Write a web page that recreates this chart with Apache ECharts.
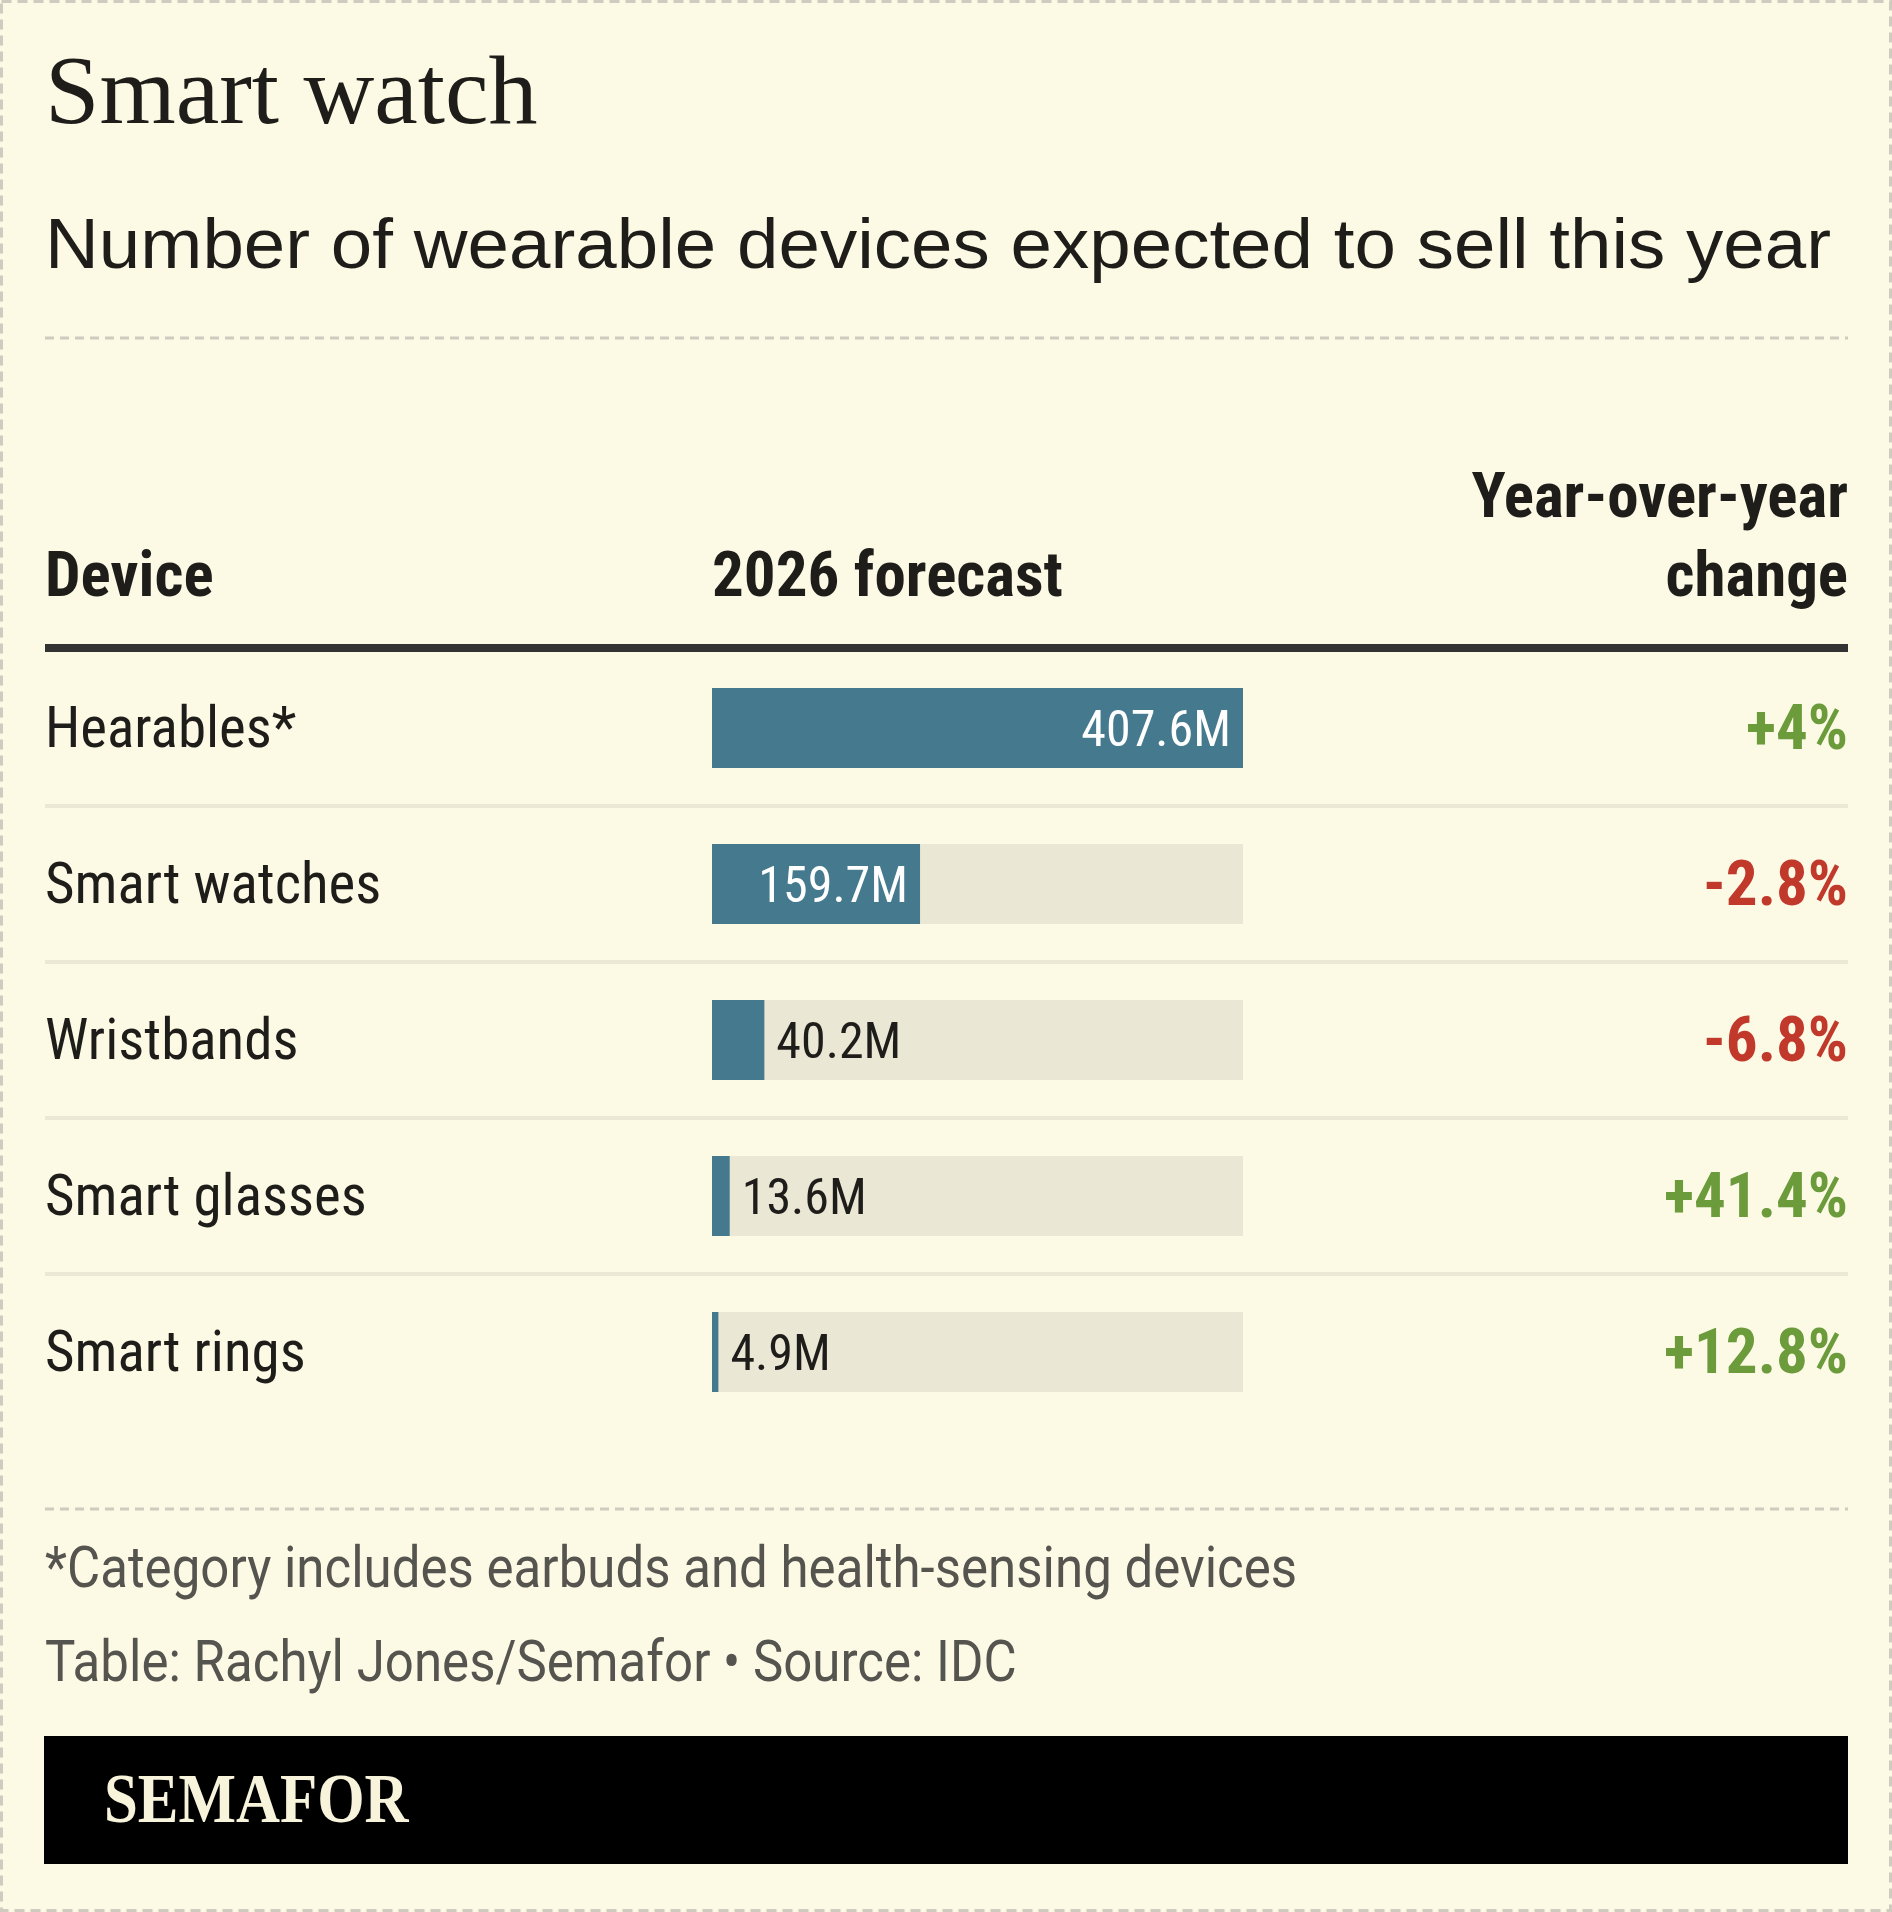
<!DOCTYPE html>
<html>
<head>
<meta charset="utf-8">
<title>Smart watch</title>
<script src="https://cdn.jsdelivr.net/npm/echarts@6/dist/echarts.min.js"></script>
<style>
    html, body { margin: 0; padding: 0; background: #fcf9e5; }
    #chartArea { width: 1892px; height: 1912px; }
</style>
</head>
<body>
<div id="chartArea"></div>
<script>
var devices = ['Hearables*', 'Smart watches', 'Wristbands', 'Smart glasses', 'Smart rings'];
var forecast = [407.6, 159.7, 40.2, 13.6, 4.9];
var yoyChange = ['+4%', '-2.8%', '-6.8%', '+41.4%', '+12.8%'];

var ink = '#1e1d1a';
var narrow = "'Liberation Sans Narrow', 'Roboto Condensed', Roboto, sans-serif";
var dashColor = '#cfcbbf';

var myChart = echarts.init(document.getElementById('chartArea'));

var barData = forecast.map(function(v) {
    var inside = v > 100;
    return {
        value : v,
        label : {
            position : inside ? 'insideRight' : 'right',
            color    : inside ? '#ffffff' : ink
        }
    };
});

function headerText(text, x, y, align) {
    return {
        type : 'text',
        x : x,
        y : y,
        style : {
            text : text,
            fill : ink,
            font : 'bold 63px ' + narrow,
            align : align || 'left',
            verticalAlign : 'middle'
        }
    };
}

var option = {
    backgroundColor : '#fcf9e5',
    animation : false,
    graphic : [
        { type : 'rect', shape : { x : 1.5, y : 1.5, width : 1889, height : 1909 },
          style : { fill : 'none', stroke : dashColor, lineWidth : 3, lineDash : [10, 6] } },
        { type : 'text', x : 45, y : 97,
          style : { text : 'Smart watch', fill : ink, font : '98px "Liberation Serif", serif', verticalAlign : 'middle' } },
        { type : 'text', x : 45, y : 248, scaleX : 1.05,
          style : { text : 'Number of wearable devices expected to sell this year', fill : ink,
                    font : '71px "Liberation Sans", sans-serif', verticalAlign : 'middle' } },
        { type : 'line', shape : { x1 : 45, y1 : 338, x2 : 1848, y2 : 338 },
          style : { stroke : dashColor, lineWidth : 3, lineDash : [9, 6] } },
        headerText('Device', 45, 580),
        headerText('2026 forecast', 712, 580),
        headerText('Year-over-year', 1848, 501, 'right'),
        headerText('change', 1848, 580, 'right'),
        { type : 'rect', shape : { x : 45, y : 644, width : 1803, height : 8 }, style : { fill : '#333333' } },
        { type : 'line', shape : { x1 : 45, y1 : 1509, x2 : 1848, y2 : 1509 },
          style : { stroke : dashColor, lineWidth : 3, lineDash : [9, 6] } },
        { type : 'text', x : 45, y : 1573, scaleX : 0.895,
          style : { text : '*Category includes earbuds and health-sensing devices', fill : '#55544f',
                    font : '57px Roboto, sans-serif', verticalAlign : 'middle' } },
        { type : 'text', x : 45, y : 1667, scaleX : 0.895,
          style : { text : 'Table: Rachyl Jones/Semafor \u2022 Source: IDC', fill : '#55544f',
                    font : '57px Roboto, sans-serif', verticalAlign : 'middle' } },
        { type : 'rect', shape : { x : 44, y : 1736, width : 1804, height : 128 }, style : { fill : '#000000' } },
        { type : 'text', x : 104, y : 1804, scaleX : 0.87,
          style : { text : 'SEMAFOR', fill : '#f8f4dc', font : 'bold 70px "Liberation Serif", serif', verticalAlign : 'middle' } }
    ],
    grid : [
        { left : 45, right : 44, top : 650, height : 780 },
        { left : 712, width : 531, top : 650, height : 780 }
    ],
    xAxis : [
        { gridIndex : 0, type : 'value', show : false },
        { gridIndex : 1, type : 'value', show : false, min : 0, max : Math.max.apply(null, forecast) }
    ],
    yAxis : [
        {
            gridIndex : 0,
            type : 'category',
            data : devices,
            inverse : true,
            axisLine : { show : false },
            axisTick : { show : false },
            axisLabel : {
                inside : true,
                margin : 0,
                align : 'left',
                formatter : function(val) {
                    return '{d|' + val + '}';
                },
                rich : {
                    d : { color : ink, fontSize : 57, fontFamily : narrow, padding : [10, 0, 0, 0] }
                }
            },
            splitLine : {
                show : true,
                showMinLine : false,
                showMaxLine : false,
                lineStyle : { color : '#ebe8d6', width : 4 }
            }
        },
        {
            gridIndex : 0,
            type : 'category',
            position : 'right',
            data : yoyChange,
            inverse : true,
            axisLine : { show : false },
            axisTick : { show : false },
            splitLine : { show : false },
            axisLabel : {
                inside : true,
                margin : 0,
                align : 'right',
                formatter : function(val) {
                    return (val.charAt(0) === '-' ? '{neg|' : '{pos|') + val + '}';
                },
                rich : {
                    pos : { color : '#6b9b3b', fontSize : 63, fontWeight : 'bold', fontFamily : narrow, padding : [10, 0, 0, 0] },
                    neg : { color : '#c1392b', fontSize : 63, fontWeight : 'bold', fontFamily : narrow, padding : [10, 0, 0, 0] }
                }
            }
        },
        {
            gridIndex : 1,
            type : 'category',
            data : devices,
            inverse : true,
            show : false
        }
    ],
    series : [{
        type : 'bar',
        xAxisIndex : 1,
        yAxisIndex : 2,
        data : barData,
        barWidth : 80,
        itemStyle : { color : '#457a8e' },
        showBackground : true,
        backgroundStyle : { color : '#eae7d5' },
        label : {
            show : true,
            distance : 12,
            fontSize : 50,
            fontFamily : narrow,
            formatter : function(p) {
                return '{v|' + p.value.toFixed(1) + 'M}';
            },
            rich : {
                v : { fontSize : 50, fontFamily : narrow, padding : [10, 0, 0, 0] }
            }
        }
    }]
};

myChart.setOption(option);
</script>
</body>
</html>
